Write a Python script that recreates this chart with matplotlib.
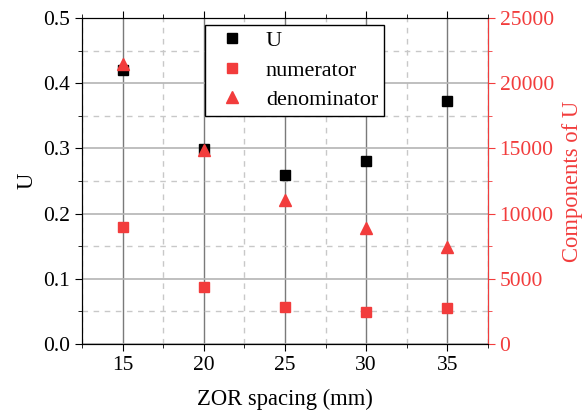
import matplotlib.pyplot as plt
from matplotlib.ticker import MultipleLocator

plt.rcParams['font.family'] = ['Liberation Serif', 'DejaVu Serif']
plt.rcParams['mathtext.fontset'] = 'stix'

spacing = [15, 20, 25, 30, 35]
u_vals = [0.420, 0.299, 0.259, 0.281, 0.373]
numerator = [9000, 4400, 2840, 2450, 2760]
denominator = [21450, 14880, 11040, 8900, 7460]

red = '#f23c3c'

fig, ax = plt.subplots(figsize=(5.87, 4.16), dpi=100)
fig.subplots_adjust(left=0.14, right=0.831, top=0.957, bottom=0.173)
ax2 = ax.twinx()

ax.set_xlim(12.5, 37.5)
ax.set_ylim(0, 0.5)
ax2.set_ylim(0, 25000)

ax.xaxis.set_major_locator(MultipleLocator(5))
ax.xaxis.set_minor_locator(MultipleLocator(2.5))
ax.yaxis.set_major_locator(MultipleLocator(0.1))
ax.yaxis.set_minor_locator(MultipleLocator(0.05))
ax2.yaxis.set_major_locator(MultipleLocator(5000))
ax2.yaxis.set_minor_locator(MultipleLocator(2500))
ax.yaxis.set_major_formatter(plt.FormatStrFormatter('%.1f'))

# grid: solid on majors, dashed on minors
ax.grid(True, which='major', axis='x', color='#7a7a7a', lw=1.0)
ax.grid(True, which='major', axis='y', color='#b4b4b4', lw=1.2)
ax.grid(True, which='minor', color='#c8c8c8', lw=1.0, ls=(0, (4, 4)))
ax.set_axisbelow(True)

ax.tick_params(which='both', direction='out', labelsize=15.5)
ax.tick_params(which='major', length=5)
ax.tick_params(which='minor', length=3)
ax.tick_params(axis='x', which='both', top=True)
ax2.tick_params(which='both', direction='out', colors=red, labelsize=15.5)
ax2.tick_params(which='major', length=5)
ax2.tick_params(which='minor', length=3)
ax2.spines['right'].set_color(red)

h1, = ax.plot(spacing, u_vals, 's', color='black', ms=7, label='U', zorder=5)
h2, = ax2.plot(spacing, numerator, 's', color=red, ms=7, label='numerator')
h3, = ax2.plot(spacing, denominator, '^', color=red, ms=8, label='denominator')

ax.set_xlabel('ZOR spacing (mm)', fontsize=16.3, labelpad=10)
ax.set_ylabel('U', fontsize=16.3)
ax2.set_ylabel('Components of U', fontsize=16.3, color=red, labelpad=6)

leg = ax2.legend(handles=[h1, h2, h3], loc='upper left',
                 bbox_to_anchor=(0.302, 0.978), fontsize=16, frameon=True,
                 fancybox=False, edgecolor='black', framealpha=1,
                 handletextpad=0.5, borderpad=0.25, labelspacing=0.4,
                 borderaxespad=0)
leg.get_frame().set_linewidth(1.0)

fig.savefig('out.png', dpi=100)
